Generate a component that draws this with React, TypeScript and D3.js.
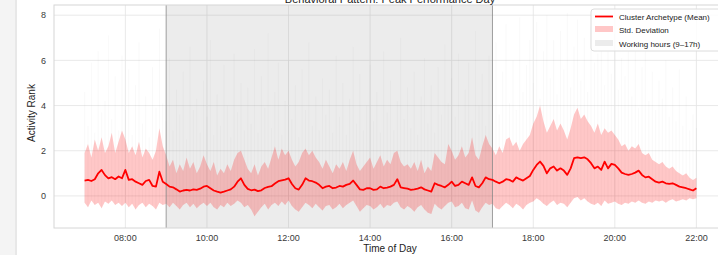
import * as d3 from 'd3';

// 5-minute samples from 07:00 to 22:00
const startHour = 7;
const stepMin = 5;

const meanRank = [
  0.68, 0.71, 0.66, 0.74, 1.0, 1.15, 0.92, 0.78, 0.83, 0.74, 0.86, 0.78,
  1.15, 0.71, 0.74, 0.63, 0.56, 0.49, 0.66, 0.71, 0.44, 0.41, 1.07, 0.63,
  0.53, 0.41, 0.38, 0.29, 0.19, 0.24, 0.27, 0.24, 0.29, 0.27, 0.32, 0.41,
  0.44, 0.34, 0.24, 0.19, 0.15, 0.19, 0.24, 0.29, 0.41, 0.63, 0.78, 0.49,
  0.31, 0.25, 0.28, 0.21, 0.25, 0.35, 0.4, 0.43, 0.55, 0.65, 0.69, 0.72,
  0.78, 0.53, 0.34, 0.28, 0.49, 0.78, 0.68, 0.65, 0.59, 0.49, 0.34, 0.41,
  0.44, 0.34, 0.37, 0.44, 0.41, 0.49, 0.53, 0.68, 0.49, 0.29, 0.27, 0.34,
  0.34, 0.27, 0.29, 0.41, 0.34, 0.37, 0.41, 0.49, 0.74, 0.38, 0.35, 0.32,
  0.27, 0.29, 0.32, 0.38, 0.29, 0.24, 0.19, 0.56, 0.49, 0.44, 0.38, 0.49,
  0.63, 0.44, 0.49, 0.63, 0.56, 0.49, 0.82, 0.44, 0.38, 0.56, 0.82, 0.74,
  0.71, 0.63, 0.56, 0.63, 0.74, 0.71, 0.63, 0.82, 0.74, 0.68, 0.78, 0.88,
  1.15, 1.37, 1.52, 1.33, 1.0, 1.22, 1.3, 1.12, 1.22, 1.12, 0.93, 1.22,
  1.67, 1.71, 1.67, 1.71, 1.62, 1.45, 1.22, 1.3, 1.15, 1.52, 1.22, 1.42,
  1.37, 1.22, 1.03, 0.97, 0.93, 0.97, 1.03, 1.12, 0.93, 0.82, 0.85, 0.74,
  0.63, 0.59, 0.63, 0.56, 0.53, 0.56, 0.49, 0.41, 0.38, 0.34, 0.29, 0.24,
  0.34,
];

// upper / lower edge of the std band
const bandHi = [
  1.9, 2.3, 1.7, 2.5, 2.0, 2.6, 1.9, 2.2, 2.8, 1.9, 2.4, 2.9,
  2.5, 1.9, 2.2, 1.8, 2.4, 1.7, 2.1, 1.9, 1.6, 2.0, 3.0, 2.2,
  1.8, 1.3, 1.6, 1.0, 1.4, 1.1, 1.7, 1.2, 1.5, 1.0, 1.3, 1.8,
  1.4, 1.1, 1.5, 0.9, 1.2, 1.0, 1.4, 1.1, 1.6, 1.9, 2.0, 1.6,
  1.2, 1.0, 1.4, 0.9, 1.3, 1.5, 1.2, 1.7, 2.2, 1.6, 2.1, 1.8,
  2.0, 1.6, 1.3, 1.5, 1.9, 2.1, 1.8, 2.0, 1.7, 1.5, 1.2, 1.6,
  1.3, 1.0, 1.4, 1.2, 1.5, 1.1, 1.6, 2.0, 1.4, 1.1, 1.3, 1.5,
  1.7, 1.2, 1.5, 1.8, 1.3, 1.6, 1.4, 1.9, 2.0, 1.5, 1.3, 1.4,
  1.2, 1.5, 1.1, 1.6, 1.0, 1.3, 1.1, 1.9, 1.7, 1.5, 1.4, 2.3,
  2.0, 1.6, 1.8, 2.2, 1.7, 1.9, 2.6, 1.8, 1.6, 2.2, 2.7, 2.3,
  2.1, 1.8, 2.2, 1.9, 2.5, 2.6, 2.2, 2.4, 2.0, 2.3, 2.5, 2.7,
  3.2, 3.5, 4.0, 3.3, 2.8, 3.1, 3.4, 2.9, 3.2, 2.9, 2.5, 3.0,
  3.6, 3.9, 3.4, 3.6, 3.3, 3.1, 2.8, 3.2, 2.7, 3.0, 2.8, 2.9,
  2.7, 2.5, 2.2, 2.3, 2.0, 2.2, 2.1, 2.3, 1.9, 1.8, 1.9, 1.6,
  1.5, 1.4, 1.5, 1.3, 1.2, 1.3, 1.1, 1.0, 0.9, 1.0, 0.8, 0.7,
  0.8,
];

const bandLo = [
  -0.3, -0.5, -0.2, -0.4, -0.3, -0.55, -0.25, -0.35, -0.2, -0.4, -0.3, -0.45,
  -0.3, -0.5, -0.35, -0.6, -0.4, -0.3, -0.5, -0.35, -0.45, -0.6, -0.3, -0.4,
  -0.35, -0.5, -0.3, -0.45, -0.6, -0.4, -0.3, -0.5, -0.35, -0.55, -0.4, -0.3,
  -0.45, -0.3, -0.5, -0.6, -0.4, -0.5, -0.3, -0.45, -0.35, -0.2, -0.3, -0.5,
  -0.4, -0.6, -0.9, -0.7, -0.5, -0.35, -0.6, -0.4, -0.3, -0.45, -0.25, -0.4,
  -0.2, -0.45, -0.6, -0.7, -0.5, -0.3, -0.4, -0.55, -0.35, -0.5, -0.65, -0.45,
  -0.4, -0.6, -0.5, -0.35, -0.55, -0.4, -0.3, -0.2, -0.45, -0.7, -0.55, -0.4,
  -0.45, -0.6, -0.5, -0.35, -0.55, -0.4, -0.45, -0.3, -0.25, -0.5, -0.6, -0.45,
  -0.55, -0.7, -0.5, -0.4, -0.6, -0.75, -0.8, -0.35, -0.5, -0.6, -0.45, -0.3,
  -0.25, -0.5, -0.45, -0.3, -0.55, -0.6, -0.2, -0.65, -0.75, -0.5, -0.3, -0.4,
  -0.35, -0.55, -0.6, -0.45, -0.3, -0.4, -0.55, -0.35, -0.45, -0.6, -0.4, -0.3,
  -0.25, -0.1, -0.2, -0.35, -0.45, -0.3, -0.2, -0.4, -0.3, -0.35, -0.5, -0.3,
  -0.1, -0.05, -0.2, -0.1, -0.25, -0.35, -0.4, -0.3, -0.45, -0.2, -0.35, -0.3,
  -0.25, -0.35, -0.4, -0.3, -0.35, -0.25, -0.3, -0.2, -0.3, -0.35, -0.25, -0.3,
  -0.2, -0.25, -0.2, -0.3, -0.2, -0.15, -0.25, -0.2, -0.15, -0.2, -0.1, -0.15,
  -0.1,
];

// faint individual-day peaks drawn as grey streaks
const peakRank = [
  4.6, 3.1, 5.9, 2.8, 6.4, 3.7, 4.2, 7.1, 3.4, 5.3, 2.9, 6.2,
  3.8, 5.6, 2.7, 4.9, 6.8, 3.2, 4.4, 2.6, 5.7, 3.9, 7.4, 4.1,
  3.3, 6.1, 2.9, 4.7, 3.6, 5.5, 2.5, 6.6, 3.8, 4.3, 2.8, 5.1,
  3.5, 6.9, 2.7, 4.5, 3.1, 5.8, 4.0, 2.6, 6.3, 3.7, 5.0, 2.9,
  4.8, 3.2, 6.5, 2.8, 5.3, 3.9, 7.2, 3.0, 4.6, 5.9, 2.7, 4.2,
  6.0, 3.4, 4.9, 2.6, 5.6, 3.8, 6.8, 3.1, 4.4, 2.9, 5.2, 3.6,
  4.7, 2.8, 6.2, 3.5, 5.0, 2.7, 4.3, 6.6, 3.2, 5.4, 2.9, 4.0,
  5.8, 3.3, 4.6, 2.8, 6.4, 3.7, 5.1, 2.9, 4.2, 7.0, 3.4, 4.8,
  3.0, 5.5, 2.7, 4.4, 6.1, 3.2, 4.9, 2.8, 5.7, 3.6, 6.7, 4.1,
  5.2, 3.5, 6.3, 2.9, 4.7, 5.9, 3.3, 7.3, 4.0, 5.4, 3.1, 6.2,
  4.4, 6.8, 3.6, 5.5, 7.6, 4.1, 6.0, 3.8, 7.9, 4.6, 5.8, 6.9,
  5.0, 7.7, 4.3, 6.4, 8.0, 5.2, 6.9, 4.5, 7.3, 5.6, 8.1, 4.8,
  6.6, 7.8, 5.1, 7.0, 4.6, 7.5, 5.9, 6.3, 8.0, 4.9, 6.8, 5.4,
  7.2, 4.7, 6.1, 5.3, 7.4, 4.4, 6.5, 3.9, 5.7, 6.9, 4.2, 5.5,
  3.8, 5.1, 4.3, 6.0, 3.5, 4.8, 3.3, 5.6, 3.1, 4.4, 2.9, 3.6,
  3.0,
];

const xTicks = [8, 10, 12, 14, 16, 18, 20, 22];
const yTicks = [0, 2, 4, 6, 8];
const workStart = 9;
const workEnd = 17;

const legendItems = ['Cluster Archetype (Mean)', 'Std. Deviation', 'Working hours (9\u201317h)'];

const W = 718;
const H = 255;
const plot = { left: 54, top: 5, right: 727, bottom: 228 };
const font = '"Liberation Sans", Arial, sans-serif';

const App = () => {
  const hours = meanRank.map((_, i) => startHour + (i * stepMin) / 60);

  const x = d3.scaleLinear().domain([6.25, 22.75]).range([plot.left, plot.right]);
  const y = d3.scaleLinear().domain([-1.42, 8.45]).range([plot.bottom, plot.top]);

  const band = d3.area<number>()
    .x((_, i) => x(hours[i]))
    .y0((_, i) => y(bandLo[i]))
    .y1((_, i) => y(bandHi[i]));

  const line = d3.line<number>()
    .x((_, i) => x(hours[i]))
    .y(d => y(d));

  const fmt = (h: number) => `${String(h).padStart(2, '0')}:00`;

  return (
    <svg width={W} height={H} fontFamily={font}
      style={{ position: 'fixed', left: 0, top: 0, display: 'block', background: '#fff', overflow: 'hidden' }}>
      {/* notebook gutter */}
      <rect x={0} y={0} width={15} height={H} fill="#f4f4f4" />
      <line x1={16} x2={16} y1={0} y2={H} stroke="#e8e8e8" strokeWidth={2} />

      <defs>
        <clipPath id="plotClip">
          <rect x={plot.left} y={plot.top} width={plot.right - plot.left} height={plot.bottom - plot.top} />
        </clipPath>
      </defs>

      <g clipPath="url(#plotClip)">
        {/* grid */}
        {xTicks.map(t => (
          <line key={'gx' + t} x1={x(t)} x2={x(t)} y1={plot.top} y2={plot.bottom} stroke="#e3e3e3" strokeWidth={0.8} />
        ))}
        {yTicks.map(t => (
          <line key={'gy' + t} x1={plot.left} x2={plot.right} y1={y(t)} y2={y(t)} stroke="#e3e3e3" strokeWidth={0.8} />
        ))}

        {/* working hours */}
        <rect x={x(workStart)} y={plot.top} width={x(workEnd) - x(workStart)} height={plot.bottom - plot.top}
          fill="#808080" fillOpacity={0.15} />

        {/* faint individual traces */}
        {peakRank.map((p, i) => (
          <line key={'pk' + i} x1={x(hours[i])} x2={x(hours[i])} y1={y(bandLo[i])} y2={y(p)}
            stroke="#9a9a9a" strokeOpacity={0.07} strokeWidth={0.8} />
        ))}

        <path d={band(meanRank) ?? ''} fill="#ff0000" fillOpacity={0.22} stroke="none" />

        <line x1={x(workStart)} x2={x(workStart)} y1={plot.top} y2={plot.bottom} stroke="#8a8a8a" strokeWidth={1} strokeOpacity={0.8} />
        <line x1={x(workEnd)} x2={x(workEnd)} y1={plot.top} y2={plot.bottom} stroke="#8a8a8a" strokeWidth={1} strokeOpacity={0.8} />

        <path d={line(meanRank) ?? ''} fill="none" stroke="#ff0000" strokeWidth={1.8} strokeLinejoin="round" />
      </g>

      {/* frame */}
      <rect x={plot.left} y={plot.top} width={plot.right - plot.left} height={plot.bottom - plot.top}
        fill="none" stroke="#d6d6d6" strokeWidth={1} />

      {/* tick labels */}
      {xTicks.map(t => (
        <text key={'tx' + t} x={x(t)} y={241} fontSize={9} fill="#3a3a3a" textAnchor="middle">{fmt(t)}</text>
      ))}
      {yTicks.map(t => (
        <text key={'ty' + t} x={46} y={y(t) + 3.2} fontSize={9} fill="#3a3a3a" textAnchor="end">{t}</text>
      ))}

      {/* axis labels + title */}
      <text x={390} y={252} fontSize={10} fill="#222" textAnchor="middle">Time of Day</text>
      <text transform="translate(35,113) rotate(-90)" fontSize={10} fill="#222" textAnchor="middle">Activity Rank</text>
      <text x={390} y={2.5} fontSize={11} fill="#222" textAnchor="middle">Behavioral Pattern: Peak Performance Day</text>

      {/* legend */}
      <g>
        <rect x={591} y={9} width={140} height={42} rx={3} fill="#fff" fillOpacity={0.85} stroke="#dcdcdc" strokeWidth={1} />
        <line x1={595} x2={613} y1={16.5} y2={16.5} stroke="#ff0000" strokeWidth={1.8} />
        <rect x={595} y={26} width={18} height={6} fill="#ff0000" fillOpacity={0.22} />
        <rect x={595} y={40} width={18} height={6} fill="#808080" fillOpacity={0.15} />
        {legendItems.map((t, i) => (
          <text key={t} x={619} y={19.5 + i * 13.5} fontSize={8} fill="#222">{t}</text>
        ))}
      </g>
    </svg>
  );
};

export default App;
